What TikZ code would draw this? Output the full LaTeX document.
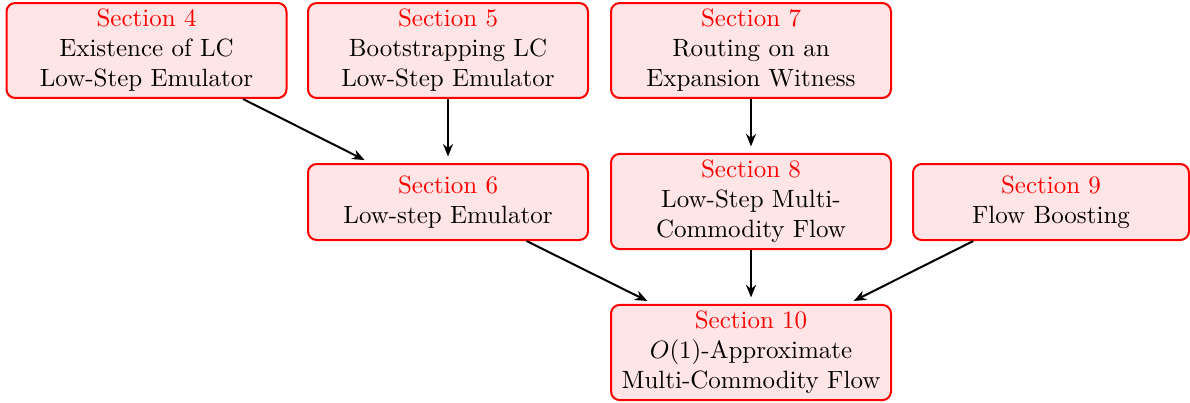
\documentclass[tikz,border=0pt]{standalone}
\usetikzlibrary{arrows.meta}
\definecolor{secred}{RGB}{230,0,0}
\tikzset{
  secbox/.style={draw=red, fill=red!10, thick, rounded corners=3.5pt, align=center,
    minimum width=112pt, minimum height=30.4pt, inner xsep=2pt, inner ysep=2.5pt},
  conn/.style={-{Stealth[length=5pt,width=4pt]}, thick, shorten >=2.6pt},
}
\newcommand{\sect}[1]{\textcolor{red}{Section #1}}
\begin{document}
\begin{tikzpicture}[x=1pt,y=1pt]
\useasboundingbox (0,0) rectangle (476,-160.8);
\node[secbox] (s4) at (58.6,-20.2) {\sect{4}\\Existence of LC\\Low-Step Emulator};
\node[secbox] (s5) at (179.2,-20.2) {\sect{5}\\Bootstrapping LC\\Low-Step Emulator};
\node[secbox] (s7) at (300.4,-20.2) {\sect{7}\\Routing on an\\Expansion Witness};
\node[secbox] (s6) at (179.2,-80.8) {\sect{6}\\Low-step Emulator};
\node[secbox] (s8) at (300.4,-80.6) {\sect{8}\\Low-Step Multi-\\Commodity Flow};
\node[secbox, minimum width=110.4pt] (s9) at (420.4,-80.8) {\sect{9}\\Flow Boosting};
\node[secbox] (s10) at (300.4,-141) {\sect{10}\\$O(1)$-Approximate\\Multi-Commodity Flow};
\draw[conn] (s4) -- (s6);
\draw[conn] (s5) -- (s6);
\draw[conn] (s7) -- (s8);
\draw[conn] (s6) -- (s10);
\draw[conn] (s8) -- (s10);
\draw[conn] (s9) -- (s10);
\end{tikzpicture}
\end{document}
